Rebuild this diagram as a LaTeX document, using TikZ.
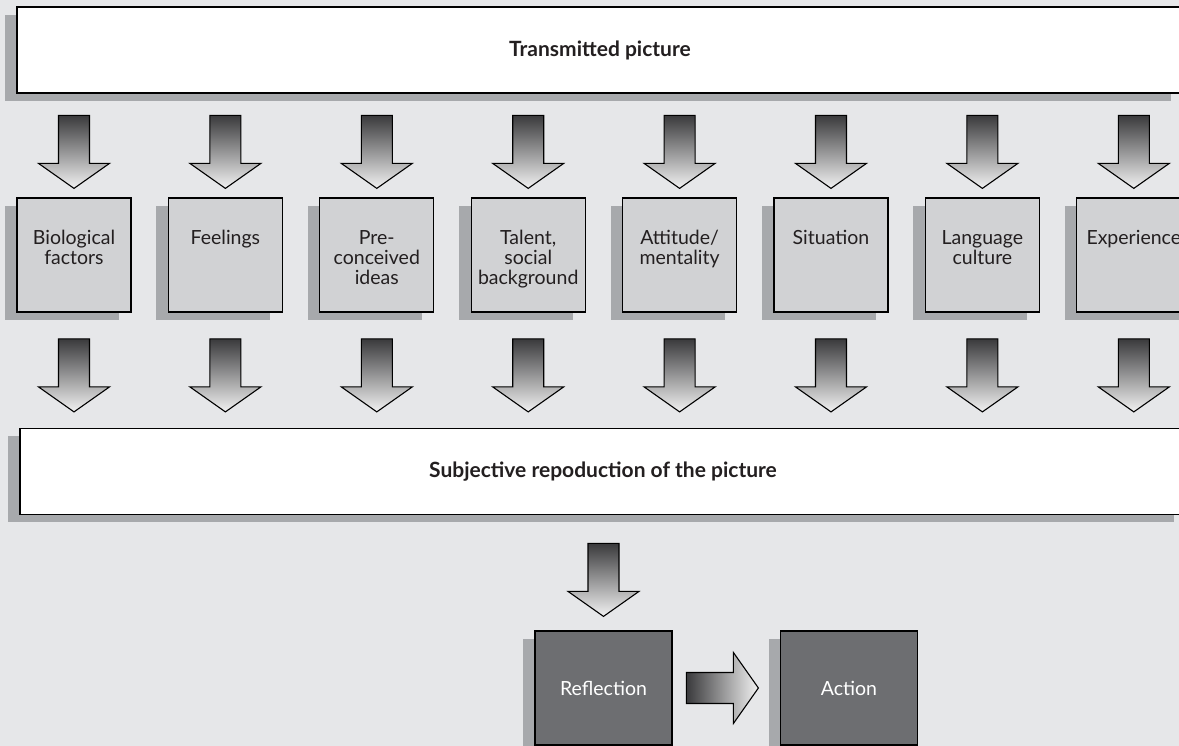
\documentclass[tikz,border=0pt]{standalone}
\usepackage{fontspec}
\setmainfont{Lato}
\usetikzlibrary{positioning,shadows,calc}
\definecolor{paper}{HTML}{E6E7E9}
\definecolor{boxgrey}{HTML}{D1D2D4}
\definecolor{deepgrey}{HTML}{6D6E71}
\definecolor{shadowgrey}{HTML}{A7A9AC}
\definecolor{arrowdark}{HTML}{3A3A3C}
\definecolor{arrowlight}{HTML}{F2F2F2}
\definecolor{inktext}{HTML}{231F20}
\tikzset{boxshadow/.style={general shadow={fill=shadowgrey,shadow xshift=-12pt,shadow yshift=-8pt}},
    widebox/.style={draw,line width=1.2pt,fill=white,boxshadow,minimum width=1166pt,minimum height=86pt,
        font=\fontsize{21}{24}\selectfont\bfseries,text=inktext},
    factorbox/.style={draw,line width=1.2pt,fill=boxgrey,boxshadow,minimum size=114pt,inner sep=0},
    factortext/.style={align=center,inner sep=0,font=\fontsize{19.5}{20}\selectfont,text=inktext},
    darkbox/.style={draw,line width=1.2pt,fill=deepgrey,boxshadow,minimum width=137pt,minimum height=114pt,
        text=white,font=\fontsize{19.5}{22}\selectfont},
    arrowbody/.style={draw,line width=1.1pt,line join=miter},
    pics/downblock/.style={code={
        \shade[arrowbody,top color=arrowdark,bottom color=arrowlight]
            (0,0) -- (-35.5,25) -- (-15.5,25) -- (-15.5,73) -- (15.5,73) -- (15.5,25) -- (35.5,25) -- cycle;
    }},
    pics/rightblock/.style={code={
        \shade[arrowbody,left color=arrowdark,right color=arrowlight]
            (0,0) -- (-25,35.5) -- (-25,15.5) -- (-72,15.5) -- (-72,-15.5) -- (-25,-15.5) -- (-25,-35.5) -- cycle;
    }}
}

\begin{document}
\begin{tikzpicture}[x=1pt,y=1pt]

\fill[paper] (0,0) rectangle (1179,746);
\useasboundingbox (0,0) rectangle (1179,746);
\clip (0,0) rectangle (1179,746);

% the two wide boxes

\node[widebox] (sent) at (600,696) {Transmitted picture};
\node[widebox] (sub) at (603,274.5) {Subjective repoduction of the picture};

% the factors in between

\foreach \lab [count=\i, evaluate=\i as \x using 74+(\i-1)*151.4] in
    {{Biological\\factors},Feelings,{Pre-\\conceived\\ideas},{Talent,\\social\\background},
     {Attitude/\\mentality},Situation,{Language\\culture},Experience}
{
    \node[factorbox] (f\i) at (\x,491) {};
    \node[factortext,below=33pt of f\i.north] (t\i) {\lab};
    \pic at ([yshift=9pt]f\i.north) {downblock};
    \pic at ($(f\i |- sub.north)+(0,16)$) {downblock};
}

% reflection and action

\node[darkbox] (refl) at (603.5,58) {Reflection};
\node[darkbox] (act) at (849,58) {Action};

\pic at ([yshift=14pt]refl.north) {downblock};
\pic at ([xshift=-21.5pt]act.west) {rightblock};

\end{tikzpicture}
\end{document}
